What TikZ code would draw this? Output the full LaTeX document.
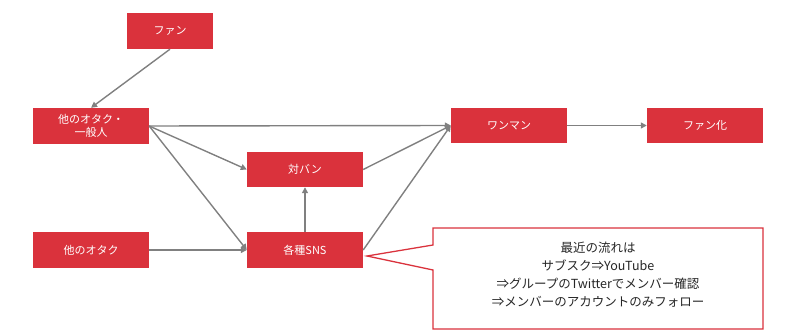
\documentclass[tikz,border=0pt]{standalone}
\usepackage{fontspec}
\setmainfont{Noto Sans CJK JP}
\usetikzlibrary{arrows.meta}
\definecolor{boxred}{RGB}{218,50,60}
\definecolor{arrgray}{RGB}{128,128,128}
\tikzset{
  rbox/.style={fill=boxred, draw=none, text=white, minimum width=116pt, minimum height=36pt, inner sep=0pt, align=center, font=\fontsize{11}{13}\selectfont},
  conn/.style={draw=arrgray, line width=1.4pt, -{Triangle[length=6pt,width=6pt]}}
}
\begin{document}
\begin{tikzpicture}[x=1pt,y=-1pt]
\useasboundingbox (0,0) rectangle (800,334);
\node[rbox, minimum width=86pt] (fan) at (170,31) {ファン};
\node[rbox] (ippan) at (91,126) {他のオタク・\\一般人};
\node[rbox, minimum height=35pt] (taiban) at (305,169.5) {対バン};
\node[rbox] (sns) at (305,250) {各種SNS};
\node[rbox] (otaku) at (91,250) {他のオタク};
\node[rbox, minimum height=35pt] (oneman) at (509,125.5) {ワンマン};
\node[rbox, minimum height=35pt] (fanka) at (705,125.5) {ファン化};
\coordinate (tip) at (367,256);
\draw[draw=boxred, line width=1.3pt, fill=white]
  (433,228) -- (763,228) -- (763,329) -- (433,329) -- (433,270) -- (tip) -- (433,245) -- cycle;
\node[align=center, font=\fontsize{12.5}{18}\selectfont, text=black!85] (note) at (598,275)
  {最近の流れは\\サブスク⇒YouTube\\⇒グループのTwitterでメンバー確認\\⇒メンバーのアカウントのみフォロー};
\draw[conn] (fan.south) -- (ippan.north);
\draw[conn] (ippan.east) -- (oneman.west);
\draw[conn] (ippan.east) -- (taiban.west);
\draw[conn] (ippan.east) -- (sns.west);
\draw[conn] (otaku.east) -- (sns.west);
\draw[conn] (sns.north) -- (taiban.south);
\draw[conn] (taiban.east) -- (oneman.west);
\draw[conn] (sns.east) -- (oneman.west);
\draw[conn] (oneman.east) -- (fanka.west);
\end{tikzpicture}
\end{document}
